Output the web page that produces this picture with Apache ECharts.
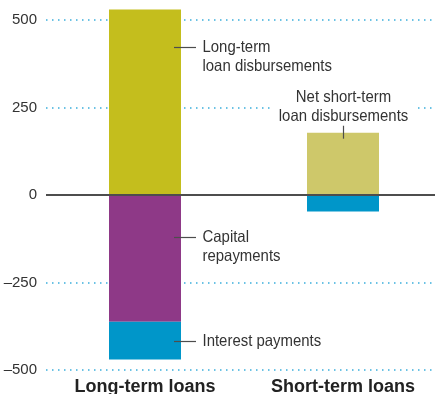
<!DOCTYPE html>
<html>
<head>
<meta charset="utf-8">
<script src="https://cdn.jsdelivr.net/npm/echarts@6/dist/echarts.min.js"></script>
<style>
  html, body { margin: 0; padding: 0; background: #fff; }
  #chart { width: 435px; height: 394px; }
</style>
</head>
<body>
<div id="chart"></div>
<script>
// Loan flows (positive = inflows, negative = outflows)
const categories = ['Long-term loans', 'Short-term loans'];
const disbursements = [530, 178];
const capitalRepayments = [-362, null];
const interestPayments = [-108, -47];

const BAR_W = 72;
const FONT = "'Liberation Sans', Arial, sans-serif";
const TEXT = '#333333';
const LEADER = '#4d4d4d';
const disbColors = ['#c4be1d', '#cec86a'];

const chart = echarts.init(document.getElementById('chart'), null, { renderer: 'canvas' });

chart.setOption({
  animation: false,
  grid: { left: 46, right: -7, top: 20, bottom: 24, containLabel: false, outerBoundsMode: 'none' },
  xAxis: {
    type: 'category',
    data: categories,
    axisLine: { show: false, onZero: false },
    axisTick: { show: false },
    axisLabel: {
      margin: 8,
      color: '#222',
      fontWeight: 'bold',
      fontSize: 18,
      fontFamily: FONT
    },
    splitLine: { show: false }
  },
  yAxis: {
    type: 'value',
    min: -500,
    max: 500,
    interval: 250,
    axisLine: { show: false },
    axisTick: { show: false },
    axisLabel: {
      margin: 9,
      color: TEXT,
      fontSize: 15,
      fontFamily: FONT,
      formatter: v => String(v).replace('-', '\u2013')
    },
    splitLine: {
      lineStyle: { color: '#3aaedc', width: 1.5, type: [1.5, 4.5] }
    }
  },
  series: [
    {
      name: 'Disbursements',
      type: 'bar',
      stack: 'flow',
      barWidth: BAR_W,
      clip: false,
      data: disbursements.map((v, i) => ({ value: v, itemStyle: { color: disbColors[i] } })),
      markLine: {
        silent: true,
        symbol: 'none',
        label: { show: false },
        lineStyle: { color: LEADER, width: 2, type: 'solid' },
        data: [{ yAxis: 0 }]
      }
    },
    {
      name: 'Capital repayments',
      type: 'bar',
      stack: 'flow',
      barWidth: BAR_W,
      clip: false,
      itemStyle: { color: '#8e3987' },
      data: capitalRepayments.map(v => (v == null ? '-' : v))
    },
    {
      name: 'Interest payments',
      type: 'bar',
      stack: 'flow',
      barWidth: BAR_W,
      clip: false,
      itemStyle: { color: '#0096c9' },
      data: interestPayments
    }
  ]
});

// Callouts placed from the chart's own scales
const pt = (i, v) => chart.convertToPixel({ seriesIndex: 0 }, [i, v]);
const LH = 19;
const NOTE_FONT = '16.5px ' + FONT;
const NARROW = 0.905;  // condensed look for callout text
const graphics = [];

function sideNote(catIdx, value, text) {
  const right = pt(catIdx, 0)[0] + BAR_W / 2;
  const y = Math.round(pt(catIdx, value)[1]) + 0.5;
  graphics.push({
    type: 'line', silent: true, z: 10,
    shape: { x1: right - 7, y1: y, x2: right + 15, y2: y },
    style: { stroke: LEADER, lineWidth: 1.2 }
  });
  graphics.push({
    type: 'text', silent: true, z: 10,
    x: right + 21.5, y: y - LH / 2,
    scaleX: NARROW,
    style: {
      text: text, fill: TEXT, font: NOTE_FONT,
      align: 'left', verticalAlign: 'top', lineHeight: LH
    }
  });
}

sideNote(0, disbursements[0] * 0.8, 'Long-term\nloan disbursements');
sideNote(0, capitalRepayments[0] / 3, 'Capital\nrepayments');
sideNote(0, capitalRepayments[0] + interestPayments[0] / 2, 'Interest payments');

// Label above the short-term bar
(function () {
  const cx = Math.round(pt(1, 0)[0]) + 0.5;
  const top = pt(1, disbursements[1])[1];
  graphics.push({
    type: 'line', silent: true, z: 10,
    shape: { x1: cx, y1: top - 8, x2: cx, y2: top + 6 },
    style: { stroke: LEADER, lineWidth: 1.2 }
  });
  graphics.push({
    type: 'text', silent: true, z: 10,
    x: cx, y: top - 7,
    scaleX: NARROW,
    style: {
      text: 'Net short-term\nloan disbursements', fill: TEXT, font: NOTE_FONT,
      align: 'center', verticalAlign: 'bottom', lineHeight: LH,
      backgroundColor: '#ffffff', padding: [0, 7]
    }
  });
})();

chart.setOption({ graphic: graphics });
</script>
</body>
</html>
